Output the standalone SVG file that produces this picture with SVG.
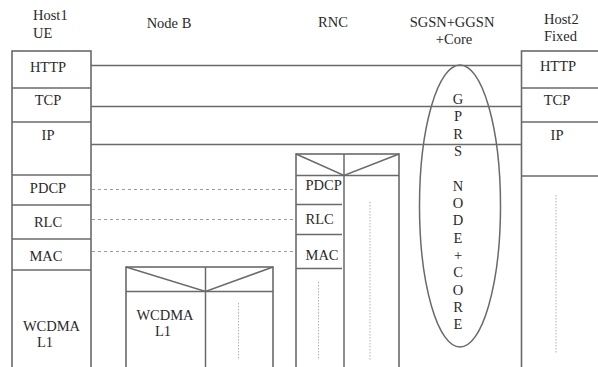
<svg xmlns="http://www.w3.org/2000/svg" width="598" height="367" viewBox="0 0 598 367">
<style>
.t{font-family:'Liberation Serif','Times New Roman',Times,'DejaVu Serif',serif;font-size:14.5px;fill:#2a2a2a}
.m{text-anchor:middle}
.b{fill:none;stroke:#6a6a6a;stroke-width:1.6}
.l{stroke:#6a6a6a;stroke-width:1.5;fill:none}
.d{stroke:#9a9a9a;stroke-width:1;stroke-dasharray:3,3;fill:none}
.v{stroke:#b0b0b0;stroke-width:1;stroke-dasharray:1.5,1.5;fill:none}
</style>
<rect width="598" height="367" fill="#fff"/>
<g id="titles">
<text class="t" x="33" y="20">Host1</text>
<text class="t" x="33" y="38">UE</text>
<text class="t m" x="169" y="28">Node B</text>
<text class="t m" x="333" y="27">RNC</text>
<text class="t m" x="452" y="27">SGSN+GGSN</text>
<text class="t m" x="454" y="44">+Core</text>
<text class="t" x="544" y="24">Host2</text>
<text class="t" x="544" y="41">Fixed</text>
</g>
<g id="connectors">
<line class="l" x1="91" y1="65.5" x2="521" y2="65.5" stroke="#8a8a8a"/>
<line class="l" x1="91" y1="106.5" x2="521" y2="106.5"/>
<line class="l" x1="91" y1="144.5" x2="521" y2="144.5" stroke="#555"/>
<line class="d" x1="92" y1="189.5" x2="295" y2="189.5"/>
<line class="d" x1="92" y1="219.5" x2="295" y2="219.5"/>
<line class="d" x1="92" y1="251.5" x2="295" y2="251.5"/>
</g>
<g id="host1">
<rect class="b" x="12" y="51" width="79" height="330"/>
<line class="l" x1="12" y1="88" x2="91" y2="88"/>
<line class="l" x1="12" y1="122" x2="91" y2="122"/>
<line class="l" x1="12" y1="175" x2="91" y2="175"/>
<line class="l" x1="12" y1="205" x2="91" y2="205"/>
<line class="l" x1="12" y1="239" x2="91" y2="239"/>
<line class="l" x1="12" y1="270" x2="91" y2="270"/>
<text class="t m" x="48" y="72">HTTP</text>
<text class="t m" x="48" y="105">TCP</text>
<text class="t m" x="48" y="140">IP</text>
<text class="t m" x="48" y="193">PDCP</text>
<text class="t m" x="48" y="227">RLC</text>
<text class="t m" x="46" y="261">MAC</text>
<text class="t m" x="51.5" y="331">WCDMA</text>
<text class="t m" x="45" y="347">L1</text>
</g>
<g id="nodeb">
<rect class="b" x="126" y="267" width="147" height="120"/>
<line class="l" x1="126" y1="291.5" x2="273" y2="291.5"/>
<line class="l" x1="205.5" y1="267" x2="205.5" y2="380"/>
<polyline class="l" points="126,267 205.5,291.5 273,267"/>
<line class="v" x1="238.5" y1="303" x2="238.5" y2="360"/>
<text class="t m" x="165" y="320">WCDMA</text>
<text class="t m" x="163" y="336">L1</text>
</g>
<g id="rnc">
<rect class="b" x="296" y="154" width="103" height="230"/>
<line class="l" x1="296" y1="175.5" x2="399" y2="175.5"/>
<line class="l" x1="344" y1="154" x2="344" y2="380"/>
<polyline class="l" points="296,154 344,175.5 399,154"/>
<line class="l" x1="296" y1="204.5" x2="342" y2="204.5"/>
<line class="l" x1="296" y1="234.5" x2="342" y2="234.5"/>
<line class="l" x1="296" y1="268.5" x2="342" y2="268.5"/>
<line class="v" x1="370" y1="202" x2="370" y2="360"/>
<line class="v" x1="318.5" y1="282" x2="318.5" y2="360"/>
<text class="t" x="305.5" y="190">PDCP</text>
<text class="t" x="305.5" y="223.5">RLC</text>
<text class="t" x="305.5" y="259.5">MAC</text>
</g>
<g id="core">
<ellipse class="l" cx="460" cy="206" rx="40.5" ry="141"/>
<g class="t m" font-size="13">
<text x="458" y="104">G</text>
<text x="458" y="121">P</text>
<text x="458" y="138.5">R</text>
<text x="458" y="156">S</text>
<text x="458" y="190.5">N</text>
<text x="458" y="208">O</text>
<text x="458" y="225">D</text>
<text x="458" y="242.5">E</text>
<text x="458" y="260">+</text>
<text x="458" y="277">C</text>
<text x="458" y="294.5">O</text>
<text x="458" y="312">R</text>
<text x="458" y="329">E</text>
</g>
</g>
<g id="host2">
<rect class="b" x="521.5" y="51" width="90" height="330"/>
<line class="l" x1="521.5" y1="88" x2="600" y2="88"/>
<line class="l" x1="521.5" y1="122" x2="600" y2="122"/>
<line class="l" x1="521.5" y1="176" x2="600" y2="176" stroke="#8a8a8a"/>
<line class="v" x1="556" y1="195" x2="556" y2="353"/>
<text class="t m" x="558" y="71">HTTP</text>
<text class="t m" x="557" y="105">TCP</text>
<text class="t m" x="557" y="140">IP</text>
</g>
</svg>
